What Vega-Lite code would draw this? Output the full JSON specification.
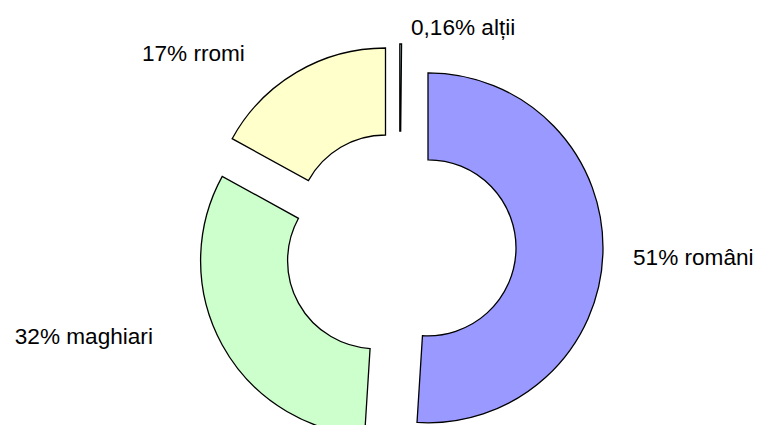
{
  "$schema": "https://vega.github.io/schema/vega-lite/v6.json",
  "width": 714,
  "height": 356,
  "autosize": {"type": "none"},
  "padding": {"left": 43, "top": 69, "right": 0, "bottom": 0},
  "background": "white",
  "config": {"view": {"stroke": null}, "text": {"font": "Liberation Sans", "fontSize": 22.6, "color": "black"}},
  "data": {
    "values": [
      {"group": "români", "value": 51, "label": "51% români"},
      {"group": "maghiari", "value": 32, "label": "32% maghiari"},
      {"group": "rromi", "value": 17, "label": "17% rromi"},
      {"group": "alții", "value": 0.16, "label": "0,16% alții"}
    ]
  },
  "transform": [
    {"stack": "value", "groupby": [], "sort": [{"field": "value", "order": "descending"}], "as": ["t0", "t1"]}
  ],
  "layer": [
    {
      "transform": [{"filter": "datum.group === 'români'"}],
      "layer": [
        {"mark": {"type": "arc", "innerRadius": 88, "outerRadius": 175, "stroke": "black", "strokeWidth": 1.3, "xOffset": 28, "yOffset": 0.8},
         "encoding": {"theta": {"field": "t0", "type": "quantitative"}, "theta2": {"field": "t1"},
                      "color": {"field": "group", "type": "nominal", "legend": null, "scale": {"domain": ["români", "maghiari", "rromi", "alții"], "range": ["#9999FF", "#CCFFCC", "#FFFFCC", "#CCFFFF"]}}}},
        {"mark": {"type": "text", "radius": 0, "align": "left", "baseline": "alphabetic", "dx": 233, "dy": 18},
         "encoding": {"theta": {"field": "t0", "type": "quantitative"}, "text": {"field": "label"}}}
      ]
    },
    {
      "transform": [{"filter": "datum.group === 'maghiari'"}],
      "layer": [
        {"mark": {"type": "arc", "innerRadius": 88, "outerRadius": 175, "stroke": "black", "strokeWidth": 1.3, "xOffset": -24.4, "yOffset": 13.7},
         "encoding": {"theta": {"field": "t0", "type": "quantitative"}, "theta2": {"field": "t1"},
                      "color": {"field": "group", "type": "nominal", "legend": null}}},
        {"mark": {"type": "text", "radius": 97, "align": "right", "baseline": "alphabetic", "dx": -241, "dy": 0},
         "encoding": {"theta": {"field": "t0", "type": "quantitative"}, "text": {"field": "label"}}}
      ]
    },
    {
      "transform": [{"filter": "datum.group === 'rromi'"}],
      "layer": [
        {"mark": {"type": "arc", "innerRadius": 88, "outerRadius": 175, "stroke": "black", "strokeWidth": 1.3, "xOffset": -14.5, "yOffset": -24},
         "encoding": {"theta": {"field": "t0", "type": "quantitative"}, "theta2": {"field": "t1"},
                      "color": {"field": "group", "type": "nominal", "legend": null}}},
        {"mark": {"type": "text", "radius": 177, "align": "right", "baseline": "alphabetic", "dx": 0, "dy": -101},
         "encoding": {"theta": {"field": "t0", "type": "quantitative"}, "text": {"field": "label"}}}
      ]
    },
    {
      "transform": [{"filter": "datum.group === 'alții'"}],
      "layer": [
        {"mark": {"type": "arc", "innerRadius": 88, "outerRadius": 175, "stroke": "black", "strokeWidth": 1.3, "xOffset": -0.2, "yOffset": -28},
         "encoding": {"theta": {"field": "t0", "type": "quantitative"}, "theta2": {"field": "t1"},
                      "color": {"field": "group", "type": "nominal", "legend": null}}},
        {"mark": {"type": "text", "radius": 212, "align": "left", "baseline": "alphabetic", "dx": 11},
         "encoding": {"theta": {"field": "t0", "type": "quantitative"}, "text": {"field": "label"}}}
      ]
    }
  ]
}
